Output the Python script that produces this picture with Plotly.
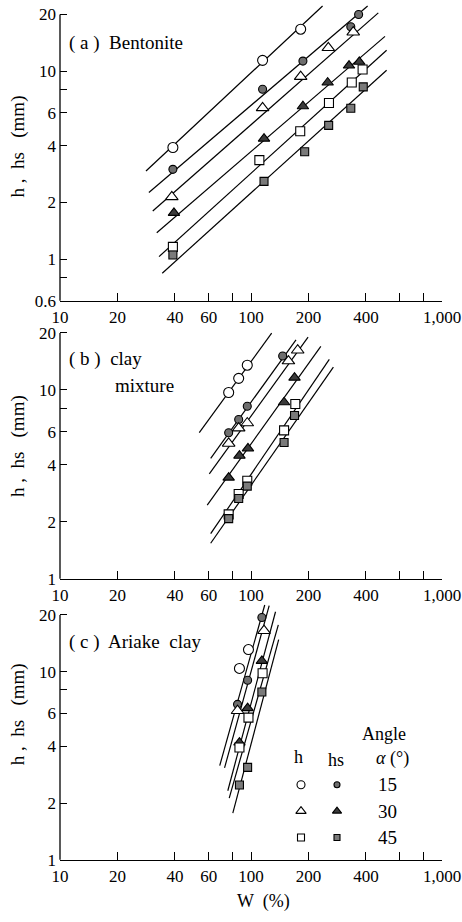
import math
import plotly.graph_objects as go

# ---------------- data ----------------
# Panel (a) Bentonite : W (%) and h / hs (mm)
a_w_h15 = [39, 115, 182];                 a_h15 = [3.92, 11.4, 16.7]
a_w_hs15 = [39, 115, 187, 333, 366];      a_hs15 = [3.0, 8.0, 11.3, 17.2, 20.0]
a_w_h30 = [38.5, 115, 182, 254, 343];     a_h30 = [2.14, 6.37, 9.34, 13.3, 16.1]
a_w_hs30 = [39.5, 117, 187, 252, 326, 369]; a_hs30 = [1.76, 4.37, 6.5, 8.69, 10.7, 11.2]
a_w_h45 = [39, 110.6, 181, 256, 337, 384];  a_h45 = [1.16, 3.36, 4.78, 6.76, 8.69, 10.2]
a_w_hs45 = [39, 117, 191, 255, 333, 387];   a_hs45 = [1.05, 2.59, 3.72, 5.14, 6.34, 8.24]
# fitted lines (W start, W end, h start, h end)
a_fit_w = [[28.2, 237], [29.2, 408], [30.6, 464], [32.1, 503], [33.0, 513], [34.3, 513]]
a_fit_h = [[2.94, 22.2], [2.26, 22.2], [1.80, 20.4], [1.38, 15.3], [1.03, 12.9], [0.84, 10.1]]

# Panel (b) clay mixture
b_w_h15 = [76.4, 86.2, 95.6];                    b_h15 = [9.68, 11.5, 13.5]
b_w_hs15 = [76.4, 86.2, 95.6, 146.5];            b_hs15 = [5.93, 6.97, 8.18, 15.1]
b_w_h30 = [76.4, 86.2, 95.6, 157, 175.6];        b_h30 = [5.2, 6.27, 6.67, 14.2, 16.2]
b_w_hs30 = [76.4, 87, 96.4, 149, 169];           b_hs30 = [3.43, 4.48, 4.9, 8.59, 11.6]
b_w_h45 = [76.4, 86.2, 95.6, 149, 170.6];        b_h45 = [2.19, 2.81, 3.30, 6.1, 8.41]
b_w_hs45 = [76.4, 86.2, 95.6, 149, 169];         b_hs45 = [2.08, 2.66, 3.09, 5.26, 7.31]
b_fit_w = [[53.6, 128.3], [61.5, 172], [60.5, 199], [59.0, 232], [61.5, 257], [61.5, 270]]
b_fit_h = [[5.93, 19.95], [4.34, 18.4], [3.59, 19.0], [2.45, 17.0], [1.73, 14.5], [1.54, 13.2]]

# Panel (c) Ariake clay
c_w_h15 = [87, 97];            c_h15 = [10.4, 13.1]
c_w_hs15 = [85, 96, 114];      c_hs15 = [6.7, 9.0, 19.4]
c_w_h30 = [85, 117];           c_h30 = [6.2, 16.5]
c_w_hs30 = [87, 96, 114];      c_hs30 = [4.2, 6.4, 11.4]
c_w_h45 = [87, 97, 115];       c_h45 = [3.95, 5.7, 9.8]
c_w_hs45 = [87, 96, 114];      c_hs45 = [2.5, 3.1, 7.8]
c_fit_w = [[68.6, 118], [72.7, 124.5], [75.6, 134.4], [76.9, 139], [80.3, 139.6]]
c_fit_h = [[3.17, 22.6], [3.08, 22.4], [2.33, 20.8], [2.13, 17.7], [1.77, 14.8]]

# ticks
x_tickvals = [10, 20, 40, 60, 80, 100, 200, 400, 600, 800, 1000]
x_ticktext = ["10", "20", "40", "60", "", "100", "200", "400", "", "", "1,000"]
ya_tickvals = [0.6, 0.8, 1, 2, 4, 6, 8, 10, 20]
ya_ticktext = ["0.6", "", "1", "2", "4", "6", "", "10", "20"]
yb_tickvals = [1, 2, 4, 6, 8, 10, 20]
yb_ticktext = ["1", "2", "4", "6", "", "10", "20"]

# legend
legend_angles = ["15", "30", "45"]
legend_cols = ["h", "hs"]

# ---------------- layout helpers ----------------
W, H = 462, 922
L, R = 60, 20
FONT = "Liberation Serif, DejaVu Serif, serif"
TOP_LOG = 1.36


def px_x(px):
    return (px - L) / (W - L - R)


def px_y(py):
    return 1 - py / H


OPEN = "white"
FILL_C = "#6e6e6e"
FILL_T = "#3a3a3a"
FILL_S = "#7a7a7a"
styles = [
    dict(symbol="circle", size=10, color=OPEN),
    dict(symbol="circle", size=8, color=FILL_C),
    dict(symbol="triangle-up", size=11, color=OPEN),
    dict(symbol="triangle-up", size=10, color=FILL_T),
    dict(symbol="square", size=9, color=OPEN),
    dict(symbol="square", size=8, color=FILL_S),
]

panels = [
    dict(series=[(a_w_h15, a_h15), (a_w_hs15, a_hs15), (a_w_h30, a_h30),
                 (a_w_hs30, a_hs30), (a_w_h45, a_h45), (a_w_hs45, a_hs45)],
         fit_w=a_fit_w, fit_h=a_fit_h, ymin=0.6, bot=304.0, dec=190.0,
         tv=ya_tickvals, tt=ya_ticktext),
    dict(series=[(b_w_h15, b_h15), (b_w_hs15, b_hs15), (b_w_h30, b_h30),
                 (b_w_hs30, b_hs30), (b_w_h45, b_h45), (b_w_hs45, b_hs45)],
         fit_w=b_fit_w, fit_h=b_fit_h, ymin=1.0, bot=585.0, dec=190.9,
         tv=yb_tickvals, tt=yb_ticktext),
    dict(series=[(c_w_h15, c_h15), (c_w_hs15, c_hs15), (c_w_h30, c_h30),
                 (c_w_hs30, c_hs30), (c_w_h45, c_h45), (c_w_hs45, c_hs45)],
         fit_w=c_fit_w, fit_h=c_fit_h, ymin=1.0, bot=869.3, dec=190.3,
         tv=yb_tickvals, tt=yb_ticktext),
]

fig = go.Figure()
layout = dict(
    width=W, height=H, margin=dict(l=L, r=R, t=0, b=0),
    paper_bgcolor="white", plot_bgcolor="white", showlegend=False,
    font=dict(family=FONT, color="black", size=17),
)
shapes = []
annotations = []

for i, p in enumerate(panels):
    n = "" if i == 0 else str(i + 1)
    xa, ya = "x" + n, "y" + n
    lo = math.log10(p["ymin"])
    span = TOP_LOG - lo
    top = p["bot"] - span * p["dec"]
    # fitted lines
    for fw, fh in zip(p["fit_w"], p["fit_h"]):
        fig.add_trace(go.Scatter(x=fw, y=fh, mode="lines", xaxis=xa, yaxis=ya,
                                 line=dict(color="black", width=1.2),
                                 hoverinfo="skip"))
    # markers
    for (xs, ys), st in zip(p["series"], styles):
        fig.add_trace(go.Scatter(
            x=xs, y=ys, mode="markers", xaxis=xa, yaxis=ya, cliponaxis=False,
            marker=dict(symbol=st["symbol"], size=st["size"], color=st["color"],
                        line=dict(color="black", width=1.1))))
    layout["xaxis" + n] = dict(
        type="log", range=[1, 3], domain=[0, 1], anchor=ya,
        tickvals=x_tickvals, ticktext=x_ticktext, ticks="inside", ticklen=8,
        tickwidth=1.2, tickcolor="black", showline=True, linecolor="black",
        linewidth=1.3, showgrid=False, zeroline=False, mirror=False,
        tickfont=dict(family=FONT, size=17), ticklabelstandoff=1)
    layout["yaxis" + n] = dict(
        type="log", range=[lo, TOP_LOG], domain=[px_y(p["bot"]), px_y(top)],
        anchor=xa, tickvals=p["tv"], ticktext=p["tt"], ticks="inside",
        ticklen=7, tickwidth=1.2, tickcolor="black", showline=False,
        showgrid=False, zeroline=False, tickfont=dict(family=FONT, size=17),
        ticklabelstandoff=3)
    frac20 = (math.log10(20) - lo) / span
    shapes.append(dict(type="line", xref=xa + " domain", yref=ya + " domain",
                       x0=0, x1=0, y0=0, y1=frac20,
                       line=dict(color="black", width=1.3)))

# y-axis titles
for yc in [148, 451, 722]:
    annotations.append(dict(text="h ,  hs   (mm)", xref="paper", yref="paper",
                            x=px_x(18), y=px_y(yc), xanchor="center", yanchor="middle",
                            textangle=-90, showarrow=False,
                            font=dict(family=FONT, size=19)))
# x-axis title
annotations.append(dict(text="W  (%)", xref="paper", yref="paper",
                        x=px_x(263), y=px_y(911), xanchor="center", yanchor="middle",
                        showarrow=False, font=dict(family=FONT, size=18)))
# panel titles
for txt, xp, yp in [("( a )  Bentonite", 67, 43), ("( b )  clay", 67, 363),
                    ("mixture", 113, 390), ("( c )  Ariake  clay", 67, 649)]:
    annotations.append(dict(text=txt, xref="paper", yref="paper", x=px_x(xp), y=px_y(yp),
                            xanchor="left", yanchor="middle", showarrow=False,
                            font=dict(family=FONT, size=19)))

# legend (drawn in an auxiliary invisible axis pair)
layout["xaxis4"] = dict(domain=[px_x(283), px_x(355)], range=[-0.5, 1.5], visible=False,
                        anchor="y4", fixedrange=True)
layout["yaxis4"] = dict(domain=[px_y(860), px_y(780)], range=[2.5, -0.5], visible=False,
                        anchor="x4", fixedrange=True)
for ci, col in enumerate(legend_cols):
    for ri, ang in enumerate(legend_angles):
        st = styles[ri * 2 + ci]
        fig.add_trace(go.Scatter(
            x=[ci], y=[ri], mode="markers", xaxis="x4", yaxis="y4",
            marker=dict(symbol=st["symbol"], size=st["size"] - 2, color=st["color"],
                        line=dict(color="black", width=1.1))))
for ri, ang in enumerate(legend_angles):
    annotations.append(dict(text=ang, xref="paper", yref="paper", x=px_x(387),
                            y=px_y(793.3 + ri * 26.7), xanchor="center", yanchor="middle",
                            showarrow=False, font=dict(family=FONT, size=19)))
for txt, xp, yp in [("h", 298, 765), ("hs", 336, 768), ("<i>α</i> (°)", 392, 767),
                    ("Angle", 384, 742)]:
    annotations.append(dict(text=txt, xref="paper", yref="paper", x=px_x(xp), y=px_y(yp),
                            xanchor="center", yanchor="middle", showarrow=False,
                            font=dict(family=FONT, size=18)))

layout["shapes"] = shapes
layout["annotations"] = annotations
fig.update_layout(**layout)
fig.write_html("out.html")
